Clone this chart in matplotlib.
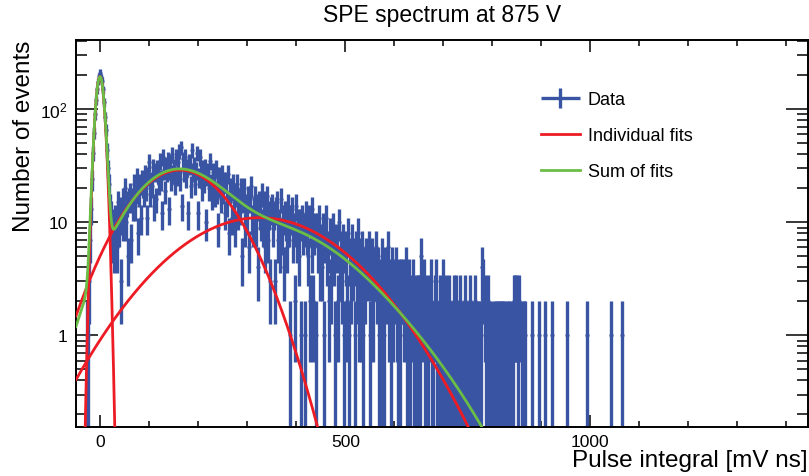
"""
SPE spectrum at 875 V: histograma do pulse integral com os ajustes gaussianos.
Gera out.png
"""
import numpy as np
import matplotlib
matplotlib.use("Agg")
import matplotlib.pyplot as plt
from matplotlib.ticker import MultipleLocator, FixedLocator, FixedFormatter, NullFormatter
from matplotlib.container import ErrorbarContainer
from matplotlib.legend_handler import HandlerErrorbar

plt.rcParams["font.family"] = ["Liberation Sans", "DejaVu Sans"]
plt.rcParams["mathtext.default"] = "regular"

BLUE = "#3A54A4"
RED = "#ED1C24"
GREEN = "#6ABD45"

# histograma: bins de 2 mV ns a partir de -32 (centros -31, -29, ...)
BIN_START = -32
BIN_WIDTH = 2
COUNTS = np.array([
    # -31 .. 29 (pedestal)
    0, 0, 1, 1, 3, 7, 13, 24, 41, 62, 90, 121, 150, 176, 196, 211,
    193, 178, 150, 115, 86, 66, 44, 30, 22, 14, 12, 7, 10, 6, 11,
    # 31 .. 49
    10, 6, 15, 9, 13, 3, 11, 16, 10, 12,
    # 51 .. 69
    20, 10, 15, 5, 16, 18, 7, 16, 14, 22,
    # 71 .. 89
    14, 19, 25, 8, 18, 22, 11, 24, 21, 18,
    # 91 .. 109
    27, 20, 11, 26, 34, 18, 23, 21, 31, 14,
    # 111 .. 129
    28, 16, 30, 27, 22, 35, 24, 12, 38, 29,
    # 131 .. 149
    19, 32, 28, 36, 13, 29, 34, 24, 40, 27,
    # 151 .. 169
    31, 22, 38, 26, 34, 43, 24, 46, 14, 36,
    # 171 .. 189
    28, 38, 25, 31, 12, 34, 32, 21, 44, 28,
    # 191 .. 209
    32, 22, 29, 41, 12, 25, 38, 28, 20, 30,
    # 211 .. 229
    23, 31, 10, 26, 28, 20, 35, 22, 17, 28,
    # 231 .. 249
    25, 18, 30, 19, 24, 9, 26, 21, 16, 27,
    # 251 .. 269
    19, 23, 12, 23, 15, 27, 8, 19, 20, 11,
    # 271 .. 289
    22, 15, 9, 18, 22, 12, 16, 13, 20, 5,
    # 291 .. 309
    16, 20, 9, 14, 11, 17, 6, 16, 21, 11,
    # 311 .. 329
    9, 13, 17, 9, 14, 4, 15, 12, 10, 18,
    # 331 .. 349
    9, 14, 6, 15, 11, 17, 7, 12, 3, 13,
    # 351 .. 369
    14, 9, 12, 3, 13, 15, 7, 10, 6, 16,
    # 371 .. 389
    8, 11, 4, 12, 10, 6, 14, 9, 1, 11,
    # 391 .. 409
    13, 7, 9, 2, 14, 7, 10, 5, 10, 1,
    # 411 .. 429
    11, 8, 9, 1, 12, 8, 5, 11, 2, 9,
    # 431 .. 449
    6, 13, 2, 8, 9, 1, 9, 6, 11, 4,
    # 451 .. 469
    7, 4, 9, 1, 7, 11, 5, 6, 2, 8,
    # 471 .. 489
    3, 7, 9, 5, 1, 7, 6, 2, 10, 4,
    # 491 .. 509
    6, 3, 7, 1, 6, 5, 2, 8, 1, 5,
    # 511 .. 529
    3, 7, 4, 5, 1, 6, 3, 8, 4, 2,
    # 531 .. 549
    5, 2, 6, 1, 4, 3, 5, 0, 4, 6,
    # 551 .. 569
    1, 4, 5, 2, 4, 0, 6, 3, 4, 1,
    # 571 .. 589
    3, 1, 5, 2, 1, 4, 0, 3, 6, 2,
    # 591 .. 609
    3, 1, 4, 2, 3, 0, 4, 2, 1, 3,
    # 611 .. 629
    1, 3, 0, 3, 2, 0, 4, 1, 2, 0,
    # 631 .. 649
    3, 1, 2, 0, 3, 1, 0, 2, 1, 2,
    # 651 .. 669
    2, 1, 5, 2, 0, 3, 1, 2, 0, 1,
    # 671 .. 689
    2, 0, 3, 1, 1, 0, 2, 3, 1, 0,
    # 691 .. 709
    1, 2, 0, 1, 3, 0, 1, 2, 0, 1,
    # 711 .. 729
    2, 0, 1, 1, 0, 2, 1, 0, 2, 1,
    # 731 .. 749
    0, 1, 2, 0, 1, 0, 1, 2, 0, 1,
    # 751 .. 769
    1, 0, 2, 1, 0, 1, 0, 2, 1, 0,
    # 771 .. 789
    1, 1, 0, 1, 4, 3, 0, 2, 1, 0,
    # 791 .. 809
    2, 1, 0, 0, 1, 0, 0, 1, 1, 0,
    # 811 .. 829
    1, 1, 0, 1, 0, 1, 1, 0, 1, 0,
    # 831 .. 849
    1, 0, 1, 1, 0, 0, 1, 2, 2, 0,
    # 851 .. 869
    2, 1, 2, 0, 0, 1, 0, 1, 1, 0,
    # 871 .. 889
    0, 0, 0, 0, 0, 1, 0, 0, 0, 0,
    # 891 .. 909
    0, 0, 1, 0, 0, 0, 0, 0, 1, 0,
    # 911 .. 929
    0, 0, 0, 0, 0, 0, 1, 0, 0, 0,
    # 931 .. 949
    0, 0, 0, 0, 0, 0, 0, 0, 0, 0,
    # 951 .. 969
    0, 1, 0, 0, 0, 0, 0, 0, 0, 0,
    # 971 .. 989
    0, 0, 0, 0, 0, 0, 0, 0, 0, 0,
    # 991 .. 1009
    0, 1, 0, 0, 0, 0, 0, 0, 0, 0,
    # 1011 .. 1029
    0, 0, 0, 0, 0, 0, 0, 0, 0, 0,
    # 1031 .. 1049
    0, 0, 0, 0, 0, 0, 1, 0, 0, 0,
    # 1051 .. 1069
    0, 0, 0, 0, 0, 0, 0, 1, 0, 0,
], dtype=float)

# ajustes individuais: (amplitude, media, sigma)
PED_FIT = (195.0, -1.0, 8.0)
SPE_FIT = (29.0, 162.0, 87.0)
DPE_FIT = (11.0, 325.0, 146.0)
# ajuste combinado (soma de componentes)
SUM_FIT = [
    (190.0, -1.0, 8.0),
    (26.0, 152.0, 80.0),
    (9.0, 330.0, 130.0),
    (0.9, 530.0, 127.0),
]

X_RANGE = (-50, 1445)
Y_RANGE = (0.155, 410)


def gaus(x, amp, mean, sigma):
    return amp * np.exp(-0.5 * ((x - mean) / sigma) ** 2)


def main():
    edges = BIN_START + BIN_WIDTH * np.arange(len(COUNTS) + 1)
    centers = 0.5 * (edges[:-1] + edges[1:])
    m = COUNTS > 0
    y = COUNTS[m]
    err = np.sqrt(y)
    lo = y - np.clip(y - err, 1e-3, None)

    fig = plt.figure(figsize=(8.09, 4.77), dpi=100)
    ax = fig.add_axes([76 / 809, 1 - 428 / 477, 732 / 809, 387 / 477])

    eb = ax.errorbar(centers[m], y, xerr=BIN_WIDTH / 2, yerr=[lo, err], fmt="o", ms=2.0,
                     color=BLUE, ecolor=BLUE, elinewidth=2.4, capsize=0, zorder=2)

    x = np.linspace(X_RANGE[0], X_RANGE[1], 4000)
    red = None
    for p in (PED_FIT, SPE_FIT, DPE_FIT):
        red, = ax.plot(x, gaus(x, *p), color=RED, lw=2.0, zorder=3)
    total = sum(gaus(x, *p) for p in SUM_FIT)
    green, = ax.plot(x, total, color=GREEN, lw=2.0, zorder=4)

    ax.set_yscale("log")
    ax.set_xlim(*X_RANGE)
    ax.set_ylim(*Y_RANGE)

    ax.xaxis.set_major_locator(MultipleLocator(500))
    ax.xaxis.set_minor_locator(MultipleLocator(100))
    ax.yaxis.set_major_locator(FixedLocator([1, 10, 100]))
    ax.yaxis.set_major_formatter(FixedFormatter(["1", "10", "$10^{2}$"]))
    minors = [k * 10.0 ** e for e in (-1, 0, 1, 2) for k in range(2, 10)]
    ax.yaxis.set_minor_locator(FixedLocator(minors))
    ax.yaxis.set_minor_formatter(NullFormatter())

    ax.tick_params(which="both", direction="in", top=True, right=True, width=1.1,
                   labelsize=12.5)
    ax.tick_params(axis="x", which="major", length=8.5, pad=5)
    ax.tick_params(axis="x", which="minor", length=4.3)
    ax.tick_params(axis="y", which="major", length=15.5, pad=6)
    ax.tick_params(axis="y", which="minor", length=7.8)
    for s in ax.spines.values():
        s.set_linewidth(1.4)

    ax.set_xlabel("Pulse integral [mV ns]", fontsize=17.5, loc="right", labelpad=0)
    ax.set_ylabel("Number of events", fontsize=17.5, loc="top", labelpad=4)
    ax.set_title("SPE spectrum at 875 V", fontsize=16.5, pad=14)

    ax.legend([eb, red, green], ["Data", "Individual fits", "Sum of fits"],
              loc="upper left", bbox_to_anchor=(0.635, 0.868), frameon=False,
              fontsize=13, handlelength=2.15, handletextpad=0.45, labelspacing=1.05,
              borderpad=0, borderaxespad=0,
              handler_map={ErrorbarContainer: HandlerErrorbar(xerr_size=1.07, yerr_size=0.55)})

    fig.savefig("out.png", dpi=100)
    plt.close(fig)


if __name__ == "__main__":
    main()
